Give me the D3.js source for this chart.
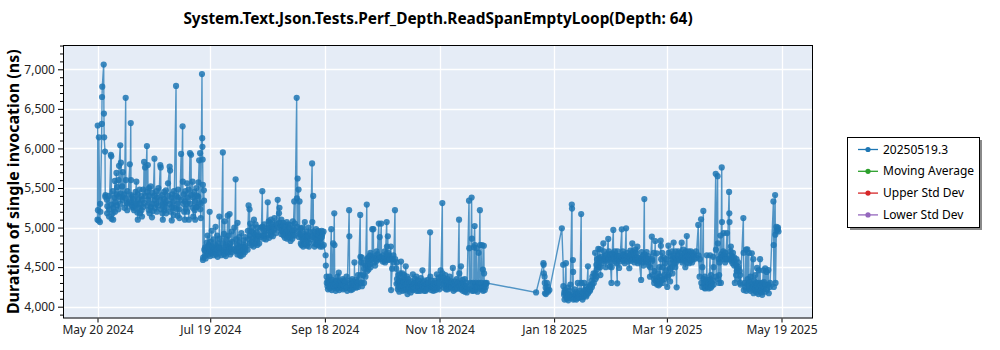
<!DOCTYPE html>
<html><head><meta charset="utf-8">
<script src="https://cdn.jsdelivr.net/npm/d3@7"></script>
<style>
body{margin:0;background:#fff;}
svg text{font-family:"Segoe UI","Noto Sans","Open Sans",sans-serif;}
</style>
</head><body><svg id="chart" width="1000" height="350"></svg>
<script>
const chartTitle = "System.Text.Json.Tests.Perf_Depth.ReadSpanEmptyLoop(Depth: 64)";
const yAxisLabel = "Duration of single invocation (ns)";
const startDate = "2024-05-20";
const xTickDates = ["2024-05-20","2024-07-19","2024-09-18","2024-11-18","2025-01-18","2025-03-19","2025-05-19"];
const yTickValues = [4000,4500,5000,5500,6000,6500,7000];
const legendLabels = ["20250519.3","Moving Average","Upper Std Dev","Lower Std Dev"];
const legendColors = ["#1f77b4","#2ca02c","#d62728","#9467bd"];

// days since startDate for each run group
const dayOffsets = [
0,0.6,1.3,2.3,3.3,4,5,6,7.1,8.1,9.1,10.1,11.1,12.1,13.1,14.2,15,15.7,17.2,17.7,
18.2,19.2,20.2,20.7,21.2,22.3,23.3,24.3,24.8,25.3,26.3,26.8,27.3,28.3,29,29.3,30.3,31.3,32.4,33.4,
34.4,35.4,36.4,37.4,38.4,39.4,40.4,41.8,42.5,43.5,44.5,45.3,46,46.5,47.5,48.5,49.2,49.8,50.6,51.6,
52.6,53.6,54.1,54.6,55.6,56.1,56.6,
57.2,58.2,59.2,59.7,60.7,61.7,62.7,63.7,64.7,65.7,66.7,67.3,68.3,69.3,70.3,71.3,72.8,73.5,74.3,75.3,
76.3,77.4,78.4,79.9,80.4,80.9,81.9,82.9,83.9,84.9,85.9,87,87.7,88.5,89.5,90.6,91,92,93,94,
95,95.9,96.6,97.6,98.6,99.6,100.6,101.6,102.6,103.7,104.7,106,106.5,107,107.5,108.2,109.2,110.2,111.2,112.2,
113.2,114.2,114.8,115.3,116.3,117.3,118.3,119.3,120.3,
121.4,121.9,122.4,123.4,124.4,125.4,126,126.4,127.4,128.4,129.4,130.5,131.5,132.5,133.9,134.5,135.5,136.5,137.5,138.5,
139.8,140.4,141.6,142.6,143.3,144,145,146.1,146.8,147.4,148.5,149.7,150.2,151,151.7,152.7,153.9,154.5,155.4,156.1,
156.8,157.5,158.3,159,159.8,160.6,161.4,162.2,163,163.8,164.6,165.6,166.7,167.7,168.7,169.7,170.7,171.7,172.7,173.7,
174.7,175.8,177,177.6,178.6,179.6,180.6,181.6,182.6,183.5,184.1,185.1,186.1,187.1,188.1,189.1,190.1,191.1,191.7,192.4,
193.2,194.2,195.2,196.2,197.7,198.4,199.1,199.7,200.2,200.7,201.2,201.7,202.2,202.8,203.5,204.1,204.6,205.1,205.6,206.1,
206.6,207.1,
233.4,237.3,237.9,238.5,239.2,239.7,240.5,
247.1,247.8,248.3,249.3,250.3,251.3,252.4,253,253.6,254.6,255.6,256.6,257.4,258,259,260,261,262,263,264,
264.8,265.5,266.5,267.4,268.2,269.2,270.2,271,271.8,272.7,273.5,274.5,275.2,276,276.6,277.6,279,279.6,280.6,281.3,
282,283,283.6,284.6,285.6,286.3,287.3,288.2,289.3,290.2,291,292,293,294,295,296,296.8,297.6,298.3,299,
299.7,300.5,301.5,302.5,303.2,303.8,304.6,305.6,306.6,307.5,308.2,309,309.8,310.9,311.8,312.7,313.6,314.5,315.4,316.3,
317.5,318.5,319.7,320.4,321.2,321.8,322.4,323,324,325,326,326.8,327.6,329,330,330.6,331.5,332.2,333,334,
335,336.1,336.8,337.8,338.8,339.8,340.8,341.8,343.7,344.4,345.1,345.8,346.6,347.4,348.2,349,349.8,350.7,351.6,352.6,
353.4,354.3,355.3,356.1,357,357.8,359.7,360.6,361.3,362,362.4
];

// durations (ns) of the runs in each group
const runValues = [
[5100,6290,5220],[5090,6140],[5070,5300,5200],[6310,6650,6780],[7060,6440,6140],[5960,5390,5410],[5350,5180,5270],[5400,5140,5230],[5920,5290,5900,5110],[5180,5460,5100,5250],[5380,5590,5200,5320],[5690,5420,5280,5510],[5230,5600,5390,5780],[6040,5300,5430,5820],[5520,5350,5380,5700],[5420,5250],[6640,5600,5370],[5310,5220,5460,5300],[5800,5330],[6320,5600,5410],
[5320,5280,5260,5390],[5250,5360,5220],[5280,5450],[5580,5300],[5190,5420,5100,5350],[5250,5480,5180,5300],[5400,5220,5350,5140],[5480,5260],[5830,5310],[5760,5400],[6030,5450,5280],[5790,5350],[5220,5500,5400,5180],[5520,5260],[5130,5300],[5440,5210],[5870,5400,5350,5250],[5300,5460,5200,5380],[5500,5280],[5790,5350,5760,5230],
[5410,5180,5290,5100],[5360,5450,5220,5300],[5470,5180,5330,5250],[5400,5560],[5770,5300,5720,5200],[5380,5090,5260,5420],[5330,5160,5460,5250],[6790,5400,5230],[5300,5150,5380,5480],[5230,5120],[5930,5350],[6280,5580,5300],[5420,5200],[5100,5330,5460,5240],[5300,5560,5200,5380],[5480,5100],[5940,5300],[5920,5410],[5580,5250,5380,5140],[5450,5220,5330,5100],
[5500,5260,5260,5400],[5390,5570],[5850,5320],[5940,5230,5300,5120],[6940,6130,6020,5860,5540],[4590,4620],[5470,5340,4720],
[4640,4750,4700,4610],[4810,4680,4750,4900],[4660,4780],[5200,4700,4640,4820],[4720,4960,4680,4760],[4850,4700,4650,4740],[4780,5010,4700,4660],[4900,4720,4630,4800],[4750,5140,4680,4860],[4740,4650],[5950,4800,4700],[4920,4660,4720,5080],[4640,4780,4850,4700],[5150,4760,4690,4900],[5170,4730,4800,4660],[4740,4950,4690,4820],[5000,4720],[5610,4850,4700],[4780,4660,5060,4740],[4700,4880,4810,4650],
[4640,4760,4930,4700],[4760,4660,4710,4840],[4780,4690,4880,4750],[4720,4960],[5280,4850],[5230,4800,4900,5050],[4780,4950,5000,4820],[4870,4760,4930,5100],[4800,4900,5040,4860],[4940,4780,4850,5000],[4900,4800],[5000,4880],[5460,5010,4900],[4860,4960,5040,4900],[4960,4850],[5320,5000],[4910,5080,4990,4870],[5060,4940,5100,4900],[4950,5010,5040,4890],[4980,5120],
[4930,5050],[5350,5000],[5180,5060,5250,4990],[5020,4920,5100,4960],[4940,5030,5060,4900],[4980,4870,5010,4930],[4900,5070,4960,4860],[5040,4920,4880,5000],[4950,4830,5030,4910],[4860,4960,5080,4900],[5330,4970,4900,5050],[6640,5370,5010],[5620,4950],[5480,4880],[5330,4920],[4800,4990,4880,4780],[5000,4850,4760,4920],[4860,5070,4790,4900],[4950,4830,4770,4880],[4900,5000,4810,4760],
[4940,4850],[5810,5070,4880],[5400,4950],[4800,4900,4760,4870],[4980,4790,4850,4920],[4780,4960,4900,4830],[4940,4760,4860,4810],[4960,4880,4760,4920],[4950,4780],
[4650,4520],[4380,4300],[4260,4330,4220,4290],[4380,4250,4230,4310],[4980,4270,4210,4340],[4800,4250],[5180,4780,4300],[4240,4320,4280,4200],[4330,4230,4260,4380],[4430,4240,4210,4300],[4320,4260,4240,4290],[4350,4220,4270,4330],[4230,4300,4310,4260],[4380,4240,4240,4200],[5220,4890,4300],[4230,4330,4280,4210],[4350,4260,4220,4300],[4310,4250,4560,4280],[4340,4240,4260,4310],[4300,4400,4250,4330],
[5160,4630,4400],[4560,4300,4620,4260],[4400,4550,4300,4480],[4380,4520],[5290,4600,4450],[4520,4620,4470,4580],[4650,4540,4680,4500],[4600,4980],[4980,4620],[4560,4640,4610,4520],[4700,4580,4610,4660],[5050,4600],[4880,4630],[5050,4620],[4600,4570,4650,4620],[4580,4700,4620,4560],[5070,4760,4600],[4890,4630,4680,4590],[4650,4600],[4760,4210],
[4480,4600],[4650,4560],[5220,4600],[4480,4290,4560,4350],[4220,4300,4400,4250],[4190,4330,4260,4420],[4300,4570,4240,4330],[4420,4270,4200,4350],[4310,4240,4400,4210],[4250,4320,4510,4280],[4220,4380,4290,4160],[4350,4230,4250,4300],[4180,4270,4320,4220],[4260,4410,4210,4290],[4300,4240,4230,4350],[4380,4200,4270,4310],[4200,4280,4330,4250],[4240,4200,4290,4360],[4220,4270,4460,4250],[4310,4200,4250,4330],
[4200,4260,4280,4220],[4340,4250,4230,4300],[4940,4380,4260],[4210,4290,4330,4250],[4260,4200,4300,4240],[4240,4330,4280,4210],[4410,4250,4230,4300],[4360,4260,4300,4220],[4460,4380],[5310,4420,4330],[4280,4360,4240,4310],[4400,4260,4330,4220],[4260,4350,4220,4290],[4310,4250,4380,4270],[4230,4320,4300,4250],[4490,4280,4250,4200],[4320,4260,4280,4220],[4350,4240],[4230,4300],[5100,4420,4260],
[4300,4220,4510,4280],[4230,4340,4200,4290],[4270,4220,4350,4190],[4260,4300,4220,4180],[5340,4740,4230],[4220,4300],[5380,4860,4200],[4230,4300],[4200,4750],[5020,4780,4260],[4210,4300],[4740,4250],[4190,4260],[4680,4300],[5220,4780,4250],[4220,4300],[4780,4230],[4470,4200],[4770,4420,4260],[4210,4300],
[4250,4290],[4300],
[4180],[4550,4530,4420],[4380,4300,4170],[4240,4160],[4300,4200],[4250,4190],[4210],
[4990],[4530,4260],[4150,4180,4090,4210],[4550,4130,4170,4100],[4240,4120,4080,4160],[4200,4140,4110,4280],[5290,5240,4130],[4590,4440,4090],[4160,4120,4220,4100],[4140,4180,4090,4150],[4300,4120,4170,4110],[4120,4200],[5170,4300,4130],[4150,4090,4180,4120],[4300,4140,4210,4160],[4250,4130,4150,4210],[4510,4170,4190,4230],[4260,4200,4220,4280],[4330,4250,4280,4380],[4420,4300],
[4680,4420,4350],[4530,4380,4470,4600],[4730,4500,4560,4620],[4726,4500,4400],[4630,4550],[4800,4600,4700,4580],[4640,4610,4500],[4580,4660],[4856,4620,4600,4700],[4506,4660,4560],[4300,4500,4610,4670],[4970,4640],[4600,4700,4570,4650],[4620,4550],[4296,4700,4600,4640],[4490,4600,4640,4570],[4978,4620],[4700,4600,4650,4660,4580],[4550,4620],[4990,4630],
[4600,4680,4570,4640],[4486,4600],[4710,4620,4660,4580],[4800,4630,4600,4700],[4650,4560],[4720,4610,4590,4680],[4758,4620,4550],[4620,4570],[4338,4600,4690],[4560,4640,4600,4520],[5360,4660,4600],[4620,4570,4690,4600],[4560,4640,4600,4520],[4380,4500],[4885,4600,4580,4400],[4680,4350,4300,4450],[4830,4330],[4675,4280,4360],[4420,4300,4340,4270],[4500,4320,4380,4290],
[4834,4770,4600],[4680,4340,4500,4300],[4400,4620,4350,4550],[4600,4460],[4250,4380],[4771,4680,4400],[4480,4320,4550,4640],[4700,4500,4600,4420],[4810,4620,4650,4550],[4500,4700,4620,4560],[4245,4600],[4650,4700,4600],[4590,4680],[4809,4620,4640,4560],[4720,4600,4580,4650],[4680,4500,4620,4700],[4893,4560,4640],[4700,4600,4630,4550],[4660,4600,4580,4700],[4640,4560,4600,4680],
[4650,4600],[4700,4620],[5033,4650],[4380,4600],[5105,4300],[4250,4500],[5210,4350],[4240,4300,4380,4230],[4280,4320,4650,4260],[4250,4340,4300,4230],[4650,4350,4280,4240,4400],[4300,4260],[4630,4330,4500,4280],[5680,4720,4380],[5650,4800,4350],[4600,4300,4400,4560],[4900,4620,4300,4660],[5760,5070,4630],[4700,4600,4930,4650],[4560,4680,4630,4600],
[4930,4600],[5450,5180,5070,4650],[4600,4700,4760,4580],[4640,4550,4600,4680],[4520,4620,4570,4300],[4400,4520,4600,4450],[4480,4560,4350,4500],[4450,4300,4400,4280],[5120,4680,4210],[4300,4250],[4720,4200],[4726,4280,4350],[4680,4220,4250,4310],[4200,4380],[4675,4290,4240],[4600,4170,4260,4330],[4200,4280,4400,4230],[4300,4180,4490,4260],[4220,4160,4460,4300],[4600,4270,4200],
[4180,4240,4300,4150],[4460,4220,4250,4310],[4486,4190,4280],[4440,4220],[4464,4280,4170],[4250,4300],[5330,4780,4250],[5410,4910,4300],[5010,4960],[4980,5000],[4950]
];

const svg = d3.select("#chart");
const plot = {left: 63, right: 813, top: 45, bottom: 318.5};

const parse = d3.utcParse("%Y-%m-%d");
const t0 = parse(startDate);
const tickDates = xTickDates.map(parse);

// flatten groups into points (runs of the same group a few hours apart)
const points = [];
dayOffsets.forEach((d, gi) => {
  (runValues[gi] || []).forEach((v, i) => {
    points.push({date: new Date(t0.getTime() + (d + i * 0.12) * 864e5), value: v});
  });
});

const x = d3.scaleUtc().domain([tickDates[0], tickDates[tickDates.length - 1]]).range([97.5, 781.5]);
const y = d3.scaleLinear().domain([4000, 7000]).range([306.7, 69.3]);

svg.append("rect").attr("x", plot.left).attr("y", plot.top)
  .attr("width", plot.right - plot.left).attr("height", plot.bottom - plot.top)
  .attr("fill", "#e5ecf6");

const grid = svg.append("g");
grid.selectAll(".gx").data(tickDates).enter().append("line")
  .attr("x1", d => Math.round(x(d)) + 0.5).attr("x2", d => Math.round(x(d)) + 0.5)
  .attr("y1", plot.top).attr("y2", plot.bottom).attr("stroke", "#fff").attr("stroke-width", 1.3);
grid.selectAll(".gy").data(yTickValues).enter().append("line")
  .attr("y1", d => Math.round(y(d)) + 0.5).attr("y2", d => Math.round(y(d)) + 0.5)
  .attr("x1", plot.left).attr("x2", plot.right).attr("stroke", "#fff").attr("stroke-width", 1.3);

svg.append("clipPath").attr("id", "clip").append("rect")
  .attr("x", plot.left).attr("y", plot.top).attr("width", plot.right - plot.left).attr("height", plot.bottom - plot.top);
const dataG = svg.append("g").attr("clip-path", "url(#clip)");
const line = d3.line().x(d => x(d.date)).y(d => y(d.value));
dataG.append("path").datum(points).attr("d", line)
  .attr("fill", "none").attr("stroke", "#1f77b4").attr("stroke-width", 1.4).attr("stroke-opacity", 0.75);
dataG.selectAll("circle").data(points).enter().append("circle")
  .attr("cx", d => x(d.date)).attr("cy", d => y(d.value)).attr("r", 3.1)
  .attr("fill", "#1f77b4").attr("fill-opacity", 0.85);

svg.append("rect").attr("x", plot.left + 0.5).attr("y", plot.top + 0.5)
  .attr("width", plot.right - plot.left - 1).attr("height", plot.bottom - plot.top - 1)
  .attr("fill", "none").attr("stroke", "#000").attr("stroke-width", 1);

const yAxis = d3.axisLeft(y).tickValues(yTickValues).tickFormat(d3.format(",")).tickSize(5).tickPadding(3);
const yG = svg.append("g").attr("transform", `translate(${plot.left},0)`).call(yAxis);
yG.select(".domain").remove();
yG.selectAll("text").attr("font-size", 12).attr("fill", "#222").style("font-family", '"Segoe UI","Noto Sans",sans-serif');
const minorY = d3.range(3900, 7301, 100).filter(v => v % 500 !== 0);
const yMinor = d3.axisLeft(y).tickValues(minorY).tickFormat("").tickSize(3);
const yM = svg.append("g").attr("transform", `translate(${plot.left},0)`).call(yMinor);
yM.select(".domain").remove();

const xAxis = d3.axisBottom(x).tickValues(tickDates).tickFormat(d3.utcFormat("%b %d %Y")).tickSize(4).tickPadding(3);
const xG = svg.append("g").attr("transform", `translate(0,${plot.bottom})`).call(xAxis);
xG.select(".domain").remove();
xG.selectAll("text").attr("font-size", 12).attr("fill", "#222").style("font-family", '"Segoe UI","Noto Sans",sans-serif');

svg.append("text").attr("x", (plot.left + plot.right) / 2).attr("y", 24)
  .attr("text-anchor", "middle").attr("font-size", 15.4).attr("font-weight", "bold").attr("fill", "#000")
  .text(chartTitle);

svg.append("text").attr("transform", `translate(19,${(plot.top + plot.bottom) / 2}) rotate(-90)`)
  .attr("text-anchor", "middle").attr("font-size", 16).attr("font-weight", "bold").attr("fill", "#000")
  .text(yAxisLabel);

const lg = svg.append("g");
lg.append("rect").attr("x", 850).attr("y", 140).attr("width", 132).attr("height", 90).attr("fill", "#8a8a8a");
lg.append("rect").attr("x", 847.5).attr("y", 137.5).attr("width", 132).attr("height", 90)
  .attr("fill", "#fff").attr("stroke", "#000").attr("stroke-width", 1);
legendLabels.forEach((lab, i) => {
  const yy = 149.5 + i * 21.8;
  lg.append("line").attr("x1", 858).attr("x2", 878).attr("y1", yy).attr("y2", yy)
    .attr("stroke", legendColors[i]).attr("stroke-width", 1.3);
  lg.append("circle").attr("cx", 868).attr("cy", yy).attr("r", 2.6).attr("fill", legendColors[i]);
  lg.append("text").attr("x", 883).attr("y", yy + 4).attr("font-size", 12).attr("fill", "#000").text(lab);
});
</script>
</body></html>
